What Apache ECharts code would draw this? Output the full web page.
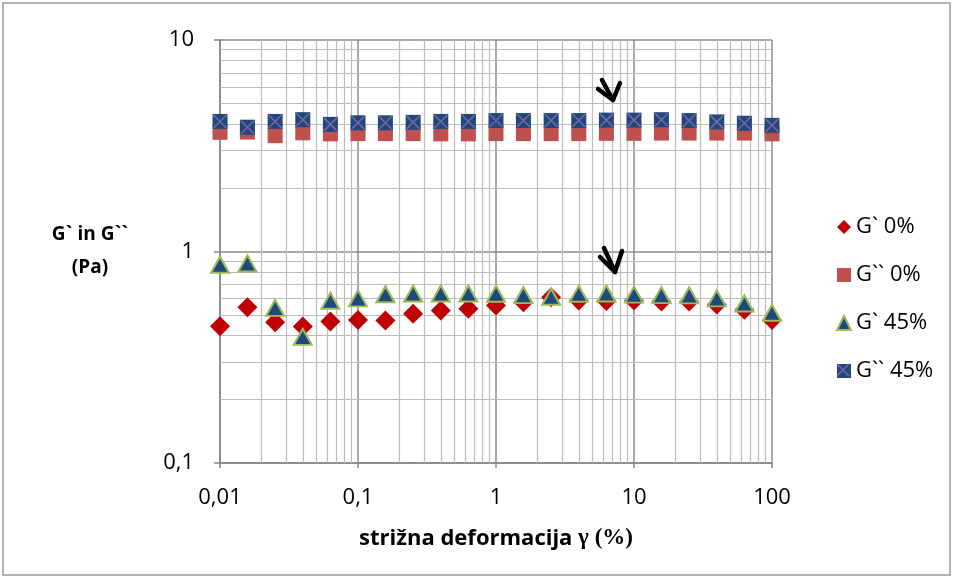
<!DOCTYPE html>
<html>
<head>
<meta charset="utf-8">
<script src="https://cdn.jsdelivr.net/npm/echarts@6/dist/echarts.min.js"></script>
<style>
  html, body { margin: 0; padding: 0; background: #fff; }
  #main { width: 954px; height: 578px; }
</style>
</head>
<body>
<div id="main"></div>
<script>
// strižna deformacija (%) - 5 točk na dekado
var strain = [0.01, 0.0158, 0.0251, 0.0398, 0.0631, 0.1, 0.158, 0.251, 0.398, 0.631,
              1, 1.58, 2.51, 3.98, 6.31, 10, 15.8, 25.1, 39.8, 63.1, 100];
var gp0   = [0.443, 0.545, 0.463, 0.442, 0.467, 0.475, 0.472, 0.508, 0.526, 0.536,
             0.555, 0.576, 0.608, 0.586, 0.583, 0.586, 0.58, 0.58, 0.562, 0.53, 0.475];
var gpp0  = [3.66, 3.67, 3.53, 3.64, 3.6, 3.61, 3.61, 3.61, 3.6, 3.6,
             3.61, 3.61, 3.61, 3.61, 3.62, 3.62, 3.63, 3.63, 3.63, 3.63, 3.6];
var gp45  = [0.866, 0.878, 0.541, 0.395, 0.585, 0.6, 0.628, 0.633, 0.633, 0.633,
             0.631, 0.622, 0.611, 0.631, 0.633, 0.625, 0.622, 0.62, 0.6, 0.568, 0.513];
var gpp45 = [4.12, 3.87, 4.12, 4.2, 3.99, 4.06, 4.06, 4.08, 4.12, 4.12,
             4.16, 4.16, 4.16, 4.16, 4.18, 4.18, 4.2, 4.16, 4.1, 4.04, 3.95];
var xTicks = [0.01, 0.1, 1, 10, 100];
var yTicks = [0.1, 1, 10];

function pairs(ys) {
  return strain.map(function (x, i) { return [x, ys[i]]; });
}
function fmt(v) {
  return String(+(+v).toPrecision(6)).replace('.', ',');
}
// pomožne mrežne črte (2..9 v vsaki dekadi)
var minorLines = [];
xTicks.slice(0, -1).forEach(function (d) {
  for (var k = 2; k <= 9; k++) minorLines.push({ xAxis: +(d * k).toPrecision(6) });
});
yTicks.slice(0, -1).forEach(function (d) {
  for (var k = 2; k <= 9; k++) minorLines.push({ yAxis: +(d * k).toPrecision(6) });
});

var FONT = '"Open Sans", sans-serif';
var myChart = echarts.init(document.getElementById('main'));
var option = {
  animation: false,
  backgroundColor: '#fff',
  textStyle: { fontFamily: FONT, color: '#000' },
  grid: { left: 220, right: 182, top: 40, bottom: 115 },
  legend: {
    orient: 'vertical',
    left: 831,
    top: 211,
    itemWidth: 14,
    itemHeight: 14,
    itemGap: 26,
    selectedMode: false,
    textStyle: { fontFamily: FONT, fontSize: 22, lineHeight: 20, color: '#000' },
    data: ['G` 0%', 'G`` 0%', 'G` 45%', 'G`` 45%']
  },
  xAxis: {
    type: 'log',
    logBase: 10,
    min: 0.01,
    max: 100,
    name: '{a|strižna deformacija }{b|γ (%)}',
    nameLocation: 'middle',
    nameGap: 64,
    nameTextStyle: {
      rich: {
        a: { fontFamily: FONT, fontWeight: 'bold', fontSize: 22, color: '#000' },
        b: { fontFamily: '"Liberation Serif", serif', fontWeight: 'bold', fontSize: 23, color: '#000' }
      }
    },
    axisLine: { lineStyle: { color: '#868686', width: 1.5 } },
    axisTick: { show: true, length: 5, lineStyle: { color: '#868686', width: 1.5 } },
    axisLabel: { fontSize: 22, margin: 24, color: '#000', formatter: fmt },
    splitLine: { show: true, lineStyle: { color: '#8c8c8c', width: 1.5 } }
  },
  yAxis: {
    type: 'log',
    logBase: 10,
    min: 0.1,
    max: 10,
    name: 'G` in G``\n(Pa)',
    nameLocation: 'middle',
    nameRotate: 0,
    nameGap: 130,
    nameTextStyle: { fontWeight: 'bold', fontSize: 19, lineHeight: 33, align: 'center', verticalAlign: 'middle', color: '#000', padding: [6, 0, 0, 0] },
    axisLine: { show: true, lineStyle: { color: '#868686', width: 1.5 } },
    axisTick: { show: true, length: 6, lineStyle: { color: '#868686', width: 1.5 } },
    axisLabel: { fontSize: 22, margin: 26, color: '#000', formatter: fmt },
    splitLine: { show: true, lineStyle: { color: '#8c8c8c', width: 1.5 } }
  },
  series: [
    {
      name: 'G` 0%',
      type: 'scatter',
      symbol: 'diamond',
      symbolSize: 20,
      itemStyle: { color: '#C00000', opacity: 1 },
      data: pairs(gp0),
      markLine: {
        z: 1,
        silent: true,
        symbol: 'none',
        label: { show: false },
        emphasis: { disabled: true },
        lineStyle: { color: '#bdbdbd', width: 1.2, type: 'solid' },
        data: minorLines
      }
    },
    {
      name: 'G`` 0%',
      type: 'scatter',
      symbol: 'rect',
      symbolSize: 15,
      itemStyle: { color: '#C0504D', opacity: 1 },
      data: pairs(gpp0)
    },
    {
      name: 'G` 45%',
      type: 'scatter',
      symbol: 'triangle',
      symbolSize: [18, 16],
      itemStyle: { color: '#1F497D', borderColor: '#9BBB59', borderWidth: 2, opacity: 1 },
      data: pairs(gp45)
    },
    {
      name: 'G`` 45%',
      type: 'scatter',
      symbol: 'rect',
      symbolSize: 15,
      itemStyle: { color: '#1F497D', opacity: 1 },
      data: pairs(gpp45)
    },
    {
      name: 'G`` 45%',
      type: 'scatter',
      symbol: 'path://M0,0L10,10M10,0L0,10',
      symbolSize: 13,
      itemStyle: { color: 'rgba(0,0,0,0)', borderColor: '#8064A2', borderWidth: 1.5, opacity: 1 },
      data: pairs(gpp45)
    }
  ],
  graphic: [
    { type: 'rect', shape: { x: 3, y: 3, width: 947, height: 572 },
      style: { fill: 'none', stroke: '#9a9a9a', lineWidth: 1.5 }, z: 100 },
    // križec v ikoni legende
    { type: 'polyline', shape: { points: [[837, 364], [849, 376]] },
      style: { stroke: '#8064A2', lineWidth: 1.5, fill: 'none' }, z: 100 },
    { type: 'polyline', shape: { points: [[849, 364], [837, 376]] },
      style: { stroke: '#8064A2', lineWidth: 1.5, fill: 'none' }, z: 100 },
    // puščici
    { type: 'polyline', shape: { points: [[602, 80], [613, 100]] },
      style: { stroke: '#000', lineWidth: 4.5, lineCap: 'round', fill: 'none' }, z: 100 },
    { type: 'polyline', shape: { points: [[598, 89], [613, 100], [620, 83]] },
      style: { stroke: '#000', lineWidth: 4.5, lineCap: 'round', lineJoin: 'round', fill: 'none' }, z: 100 },
    { type: 'polyline', shape: { points: [[604, 248], [615, 272]] },
      style: { stroke: '#000', lineWidth: 4.5, lineCap: 'round', fill: 'none' }, z: 100 },
    { type: 'polyline', shape: { points: [[600, 257], [615, 272], [622, 251]] },
      style: { stroke: '#000', lineWidth: 4.5, lineCap: 'round', lineJoin: 'round', fill: 'none' }, z: 100 }
  ]
};
myChart.setOption(option);
</script>
</body>
</html>
